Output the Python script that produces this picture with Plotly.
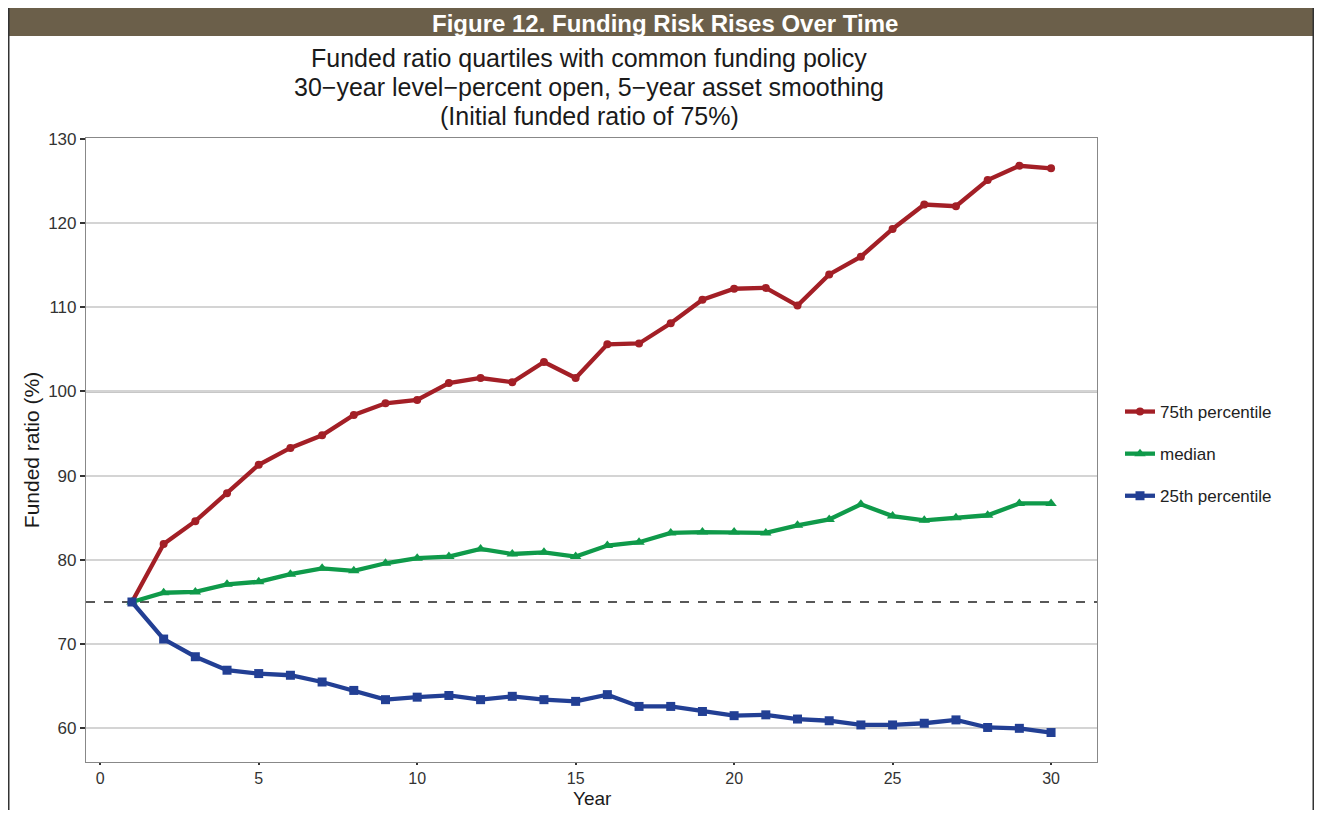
import plotly.graph_objects as go

years = list(range(1, 31))
p75 = [75.0, 81.9, 84.6, 87.9, 91.3, 93.3, 94.8, 97.2, 98.6, 99.0,
       101.0, 101.6, 101.1, 103.5, 101.6, 105.6, 105.7, 108.1, 110.9, 112.2,
       112.3, 110.2, 113.9, 116.0, 119.3, 122.2, 122.0, 125.1, 126.8, 126.5]
median = [75.0, 76.1, 76.2, 77.1, 77.4, 78.3, 79.0, 78.7, 79.6, 80.2,
          80.4, 81.3, 80.7, 80.9, 80.4, 81.7, 82.1, 83.2, 83.3, 83.3,
          83.2, 84.1, 84.8, 86.6, 85.2, 84.7, 85.0, 85.3, 86.7, 86.7]
p25 = [75.0, 70.6, 68.5, 66.9, 66.5, 66.3, 65.5, 64.5, 63.4, 63.7,
       63.9, 63.4, 63.8, 63.4, 63.2, 64.0, 62.6, 62.6, 62.0, 61.5,
       61.6, 61.1, 60.9, 60.4, 60.4, 60.6, 61.0, 60.1, 60.0, 59.5]
series_names = ["75th percentile", "median", "25th percentile"]
ref_full = 100
ref_initial = 75
x_ticks = [0, 5, 10, 15, 20, 25, 30]
y_ticks = [60, 70, 80, 90, 100, 110, 120, 130]
x_title = "Year"
y_title = "Funded ratio (%)"
header = "<b>Figure 12. Funding Risk Rises Over Time</b>"
subtitle_lines = ["Funded ratio quartiles with common funding policy",
                  "30\u2212year level\u2212percent open, 5\u2212year asset smoothing",
                  "(Initial funded ratio of 75%)"]

FONT = "Liberation Sans, Arial, sans-serif"
colors = ["#A31F26", "#0F9A4A", "#223F94"]
symbols = ["circle", "triangle-up", "square"]
msizes = [8, 10, 9]

# The page body has an 8px margin on every side, so the figure is drawn
# 16px smaller and page coordinates are shifted by OFF.
OFF = 8
W, H = 1322 - 2 * OFF, 818 - 2 * OFF
L, T = 86 - OFF, 138 - OFF
R = W - (1097 - OFF)
B = H - (762 - OFF)
PW, PH = W - L - R, H - T - B


def px(xpage):
    return (xpage - OFF - L) / PW


def py(ypage):
    return (H - B - (ypage - OFF)) / PH


fig = go.Figure()
for i, (name, vals) in enumerate(zip(series_names, [p75, median, p25])):
    fig.add_trace(go.Scatter(
        x=years, y=vals, name=name, mode="lines+markers",
        line=dict(color=colors[i], width=4.3),
        marker=dict(symbol=symbols[i], size=msizes[i], color=colors[i]),
        legendgroup=f"g{i}",
    ))

fig.add_hline(y=ref_full, line=dict(color="#222222", width=1.6), layer="below")
fig.add_hline(y=ref_initial, line=dict(color="#222222", width=1.6, dash="dash"), layer="below")

# header bar
fig.add_shape(type="rect", xref="paper", yref="paper",
              x0=px(OFF), x1=px(1322), y0=py(36), y1=py(OFF),
              fillcolor="#6B5F4A", line=dict(width=0))
# frame lines
for xx in (OFF + 0.75, 1322 - OFF - 0.75):
    fig.add_shape(type="line", xref="paper", yref="paper",
                  x0=px(xx), x1=px(xx), y0=py(830), y1=py(OFF),
                  line=dict(color="#333333", width=1.5))

fig.add_annotation(text=header,
                   xref="paper", yref="paper", x=px(665), y=py(23),
                   showarrow=False, font=dict(family=FONT, size=24, color="white"),
                   xanchor="center", yanchor="middle")
for k, (line_text, yy) in enumerate(zip(subtitle_lines, [58, 87, 116])):
    fig.add_annotation(text=line_text,
                       xref="paper", yref="paper", x=px(589), y=py(yy),
                       showarrow=False, font=dict(family=FONT, size=25, color="#1a1a1a"),
                       xanchor="center", yanchor="middle")
fig.add_annotation(text=x_title, xref="paper", yref="paper", x=px(592), y=py(810),
                   showarrow=False, font=dict(family=FONT, size=19, color="#1a1a1a"),
                   xanchor="center", yanchor="bottom", borderpad=0)

fig.update_layout(
    width=W, height=H,
    margin=dict(l=L, r=R, t=T, b=B, autoexpand=False),
    paper_bgcolor="white", plot_bgcolor="white",
    font=dict(family=FONT, color="#333333"),
    showlegend=True,
    legend=dict(x=px(1120), y=py(454), xanchor="left", yanchor="middle",
                font=dict(family=FONT, size=17, color="#222222"),
                tracegroupgap=17, bgcolor="rgba(0,0,0,0)"),
    xaxis=dict(range=[-0.45, 31.45], tickvals=x_ticks, showgrid=False, zeroline=False,
               automargin=False,
               showline=True, linecolor="#888888", linewidth=1.2, mirror=True,
               ticks="outside", ticklen=2, tickcolor="#333333", tickwidth=1.5,
               tickfont=dict(size=16, color="#333333")),
    yaxis=dict(range=[56.0, 130.1], tickvals=y_ticks, showgrid=True, gridcolor="#D4D4D4",
               gridwidth=1.5, zeroline=False, automargin=False,
               showline=True, linecolor="#888888", linewidth=1.2, mirror=True,
               ticks="outside", ticklen=5, tickcolor="#333333", tickwidth=1.5,
               tickfont=dict(size=17, color="#333333"),
               title=dict(text=y_title, font=dict(size=21, color="#1a1a1a"), standoff=2)),
)

fig.write_html("out.html")
